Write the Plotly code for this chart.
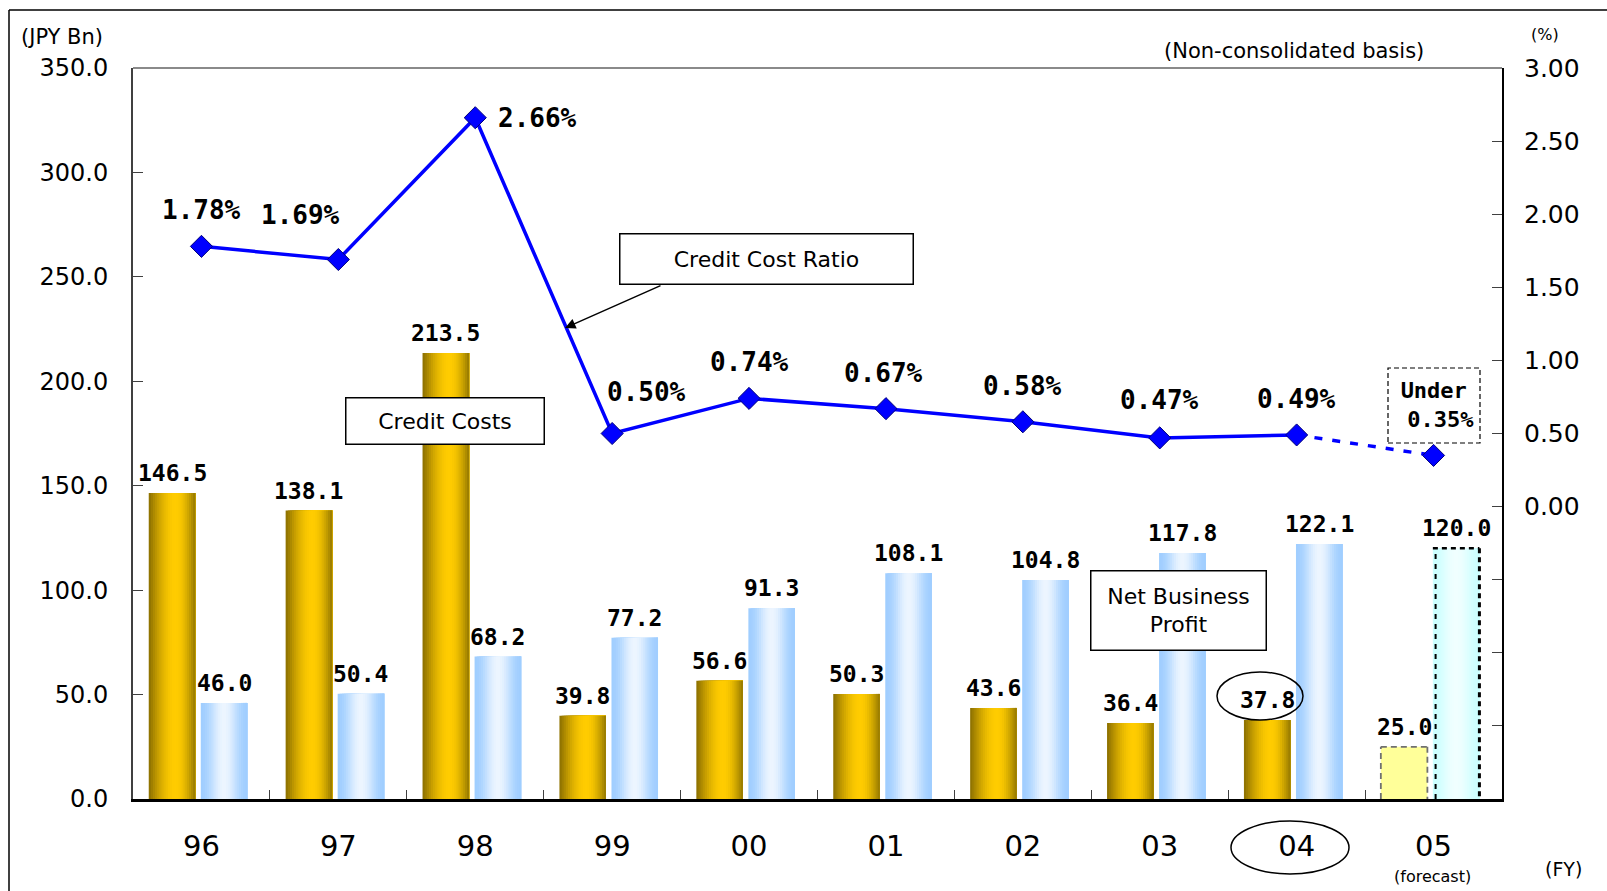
import math
import plotly.graph_objects as go

# ---- data -------------------------------------------------------------
years = ["96", "97", "98", "99", "00", "01", "02", "03", "04", "05"]
credit_costs = [146.5, 138.1, 213.5, 39.8, 56.6, 50.3, 43.6, 36.4, 37.8, 25.0]
net_business_profit = [46.0, 50.4, 68.2, 77.2, 91.3, 108.1, 104.8, 117.8, 122.1, 120.0]
credit_cost_ratio = [1.78, 1.69, 2.66, 0.50, 0.74, 0.67, 0.58, 0.47, 0.49, 0.35]
left_ticks = [0, 50, 100, 150, 200, 250, 300, 350]
right_ticks = [-2.0, -1.5, -1.0, -0.5, 0.0, 0.5, 1.0, 1.5, 2.0, 2.5, 3.0]

# ---- geometry helpers (figure pixels -> paper) ----------------------------
W, H = 1607, 891
ML, MR, MT, MB = 133, 105, 68, 92
PW, PH = W - ML - MR, H - MT - MB


def px(x):
    return (x - ML) / PW


def py(y):
    return (H - MB - y) / PH


# bar placement inside a category (category units)
GOLD_OFF, BLUE_OFF, BAR_W = -0.385, -0.005, 0.34
N_STRIPS = 22


def lerp(c1, c2, t):
    return tuple(round(a + (b - a) * t) for a, b in zip(c1, c2))


def shade(edge_l, peak, edge_r, t, peak_at, power):
    # dark/saturated edges, bright peak
    if t <= peak_at:
        s = t / peak_at
        return lerp(edge_l, peak, math.sin(s * math.pi / 2) ** power)
    s = (t - peak_at) / (1 - peak_at)
    return lerp(edge_r, peak, math.cos(s * math.pi / 2) ** power)


def rgb(c):
    return "rgb(%d,%d,%d)" % c


fig = go.Figure()

hist = len(years) - 1  # last year is a forecast


def add_strips(xs, ys, off, cols):
    # each strip runs to the right edge; later strips cover the rest,
    # so the visible bands join without seams
    for k in range(N_STRIPS):
        t = (k + 0.5) / N_STRIPS
        start = off + k * BAR_W / N_STRIPS
        fig.add_trace(go.Bar(
            x=xs, y=ys,
            offset=start, width=off + BAR_W - start,
            marker=dict(color=rgb(cols(t)), line=dict(width=0)),
            hoverinfo="skip", showlegend=False,
        ))


gold = lambda t: shade((0x8A, 0x6E, 0x00), (0xFF, 0xCC, 0x00), (0x94, 0x78, 0x00), t, 0.58, 1.0)
blue = lambda t: shade((0xA0, 0xCE, 0xFF), (0xEC, 0xF5, 0xFF), (0xA0, 0xCE, 0xFF), t, 0.5, 2.2)
cyan = lambda t: shade((0xCC, 0xFF, 0xFF), (0xF0, 0xFF, 0xFF), (0xCC, 0xFF, 0xFF), t, 0.5, 2.0)

add_strips(years[:hist], credit_costs[:hist], GOLD_OFF, gold)
add_strips(years[:hist], net_business_profit[:hist], BLUE_OFF, blue)

# forecast bars
fig.add_trace(go.Bar(
    x=years[hist:], y=credit_costs[hist:], offset=GOLD_OFF, width=BAR_W,
    marker=dict(color="#FFFF99", line=dict(width=0)),
    hoverinfo="skip", showlegend=False,
))
add_strips(years[hist:], net_business_profit[hist:], BLUE_OFF, cyan)

# credit cost ratio line (actuals solid, forecast dashed)
fig.add_trace(go.Scatter(
    x=years[:hist], y=credit_cost_ratio[:hist], yaxis="y2",
    mode="lines", line=dict(color="#0000FF", width=3.5),
    hoverinfo="skip", showlegend=False,
))
fig.add_trace(go.Scatter(
    x=years[hist - 1:], y=credit_cost_ratio[hist - 1:], yaxis="y2",
    mode="lines", line=dict(color="#0000FF", width=3.5, dash="8px,10px"),
    hoverinfo="skip", showlegend=False,
))
fig.add_trace(go.Scatter(
    x=years, y=credit_cost_ratio, yaxis="y2",
    mode="markers",
    marker=dict(symbol="diamond", size=17, color="#0000FF",
                line=dict(color="#00007A", width=1)),
    hoverinfo="skip", showlegend=False,
))

shapes = []
annotations = []

# dashed outlines of the forecast bars
fi = hist
gx0, gx1 = fi + GOLD_OFF, fi + GOLD_OFF + BAR_W
bx0, bx1 = fi + BLUE_OFF, fi + BLUE_OFF + BAR_W
gy, by = credit_costs[fi], net_business_profit[fi]
for (x0, y0, x1, y1) in [(gx0, 0, gx0, gy), (gx0, gy, gx1, gy), (gx1, gy, gx1, 0)]:
    shapes.append(dict(type="line", xref="x", yref="y", x0=x0, y0=y0, x1=x1, y1=y1,
                       line=dict(color="#707070", width=1.8, dash="6px,4px")))
shapes.append(dict(type="line", xref="x", yref="y", x0=bx0 + 0.02, y0=0, x1=bx0 + 0.02, y1=by,
                   line=dict(color="black", width=2, dash="5px,5px")))
shapes.append(dict(type="line", xref="x", yref="y", x0=bx0, y0=by, x1=bx1, y1=by,
                   line=dict(color="black", width=2.5, dash="5px,4px")))
shapes.append(dict(type="line", xref="x", yref="y", x0=bx1, y0=by, x1=bx1, y1=0,
                   line=dict(color="black", width=3, dash="5px,4px")))

# value labels above bars
mono = dict(family="DejaVu Sans Mono", size=23, color="black", weight="bold")
for i in range(len(years)):
    annotations.append(dict(x=i + GOLD_OFF + BAR_W / 2, y=credit_costs[i], xref="x", yref="y",
                            text="%.1f" % credit_costs[i], showarrow=False, yshift=20,
                            xanchor="center", yanchor="middle", font=mono))
    annotations.append(dict(x=i + BLUE_OFF + BAR_W / 2, y=net_business_profit[i], xref="x", yref="y",
                            text="%.1f" % net_business_profit[i], showarrow=False, yshift=20,
                            xanchor="center", yanchor="middle", font=mono))

# ratio labels
ratio_shift = [(0, 36), (-38, 45), (62, 0), (34, 42), (0, 36), (-2, 36), (0, 36), (0, 38), (0, 36)]
pct = dict(family="DejaVu Sans Mono", size=26, color="black", weight="bold")
for i in range(hist):
    dx, dy = ratio_shift[i]
    annotations.append(dict(x=i, y=credit_cost_ratio[i], xref="x", yref="y2",
                            text="%.2f%%" % credit_cost_ratio[i], showarrow=False,
                            xanchor="center", yanchor="middle",
                            xshift=dx, yshift=dy, font=pct))


def note(x, y, text, font, **kw):
    d = dict(x=px(x), y=py(y), xref="paper", yref="paper", text=text, showarrow=False,
             xanchor="center", yanchor="middle", font=font)
    d.update(kw)
    annotations.append(d)


# forecast ratio note in a dashed box
shapes.append(dict(type="rect", xref="paper", yref="paper",
                   x0=px(1388), x1=px(1480), y0=py(443), y1=py(368),
                   line=dict(color="black", width=1.2, dash="5px,3px"), fillcolor="white"))
note(1434, 405, "Under<br> %.2f%%" % credit_cost_ratio[hist],
     dict(family="DejaVu Sans Mono", size=22, color="black", weight="bold"))

# callout boxes
box_font = dict(family="DejaVu Sans", size=22, color="black")
box = dict(bgcolor="white", bordercolor="black", borderwidth=1.5, borderpad=0)
note(766, 258.5, "Credit Cost Ratio", box_font, width=292, height=49, **box)
note(444.5, 421.5, "Credit Costs", box_font, width=197, height=45, **box)
note(1178.5, 610, "Net Business<br>Profit", box_font, width=174, height=78, **box)

# arrow from the ratio box to the line
annotations.append(dict(x=px(565), y=py(328), xref="paper", yref="paper", text="",
                        showarrow=True, ax=97, ay=-43, arrowhead=2, arrowsize=1.4,
                        arrowwidth=1.5, arrowcolor="black"))

# highlight ellipses for the latest year
shapes.append(dict(type="circle", xref="paper", yref="paper",
                   x0=px(1217), x1=px(1303), y0=py(720), y1=py(672),
                   line=dict(color="black", width=1.5)))
shapes.append(dict(type="circle", xref="paper", yref="paper",
                   x0=px(1231), x1=px(1349), y0=py(874), y1=py(821),
                   line=dict(color="black", width=1.5)))

# unit captions
cap = dict(family="DejaVu Sans", color="black")
note(62, 37, "(JPY Bn)", dict(cap, size=21))
note(1545, 35, "(%)", dict(cap, size=16))
note(1294, 51, "(Non-consolidated basis)", dict(cap, size=21))
note(1563, 869, "(FY)", dict(cap, size=19))
note(1432, 877, "(forecast)", dict(cap, size=16))

# plot frame top edge and outer border
shapes.append(dict(type="line", xref="paper", yref="paper", x0=0, x1=1, y0=1, y1=1,
                   line=dict(color="#8A8A8A", width=2)))
shapes.append(dict(type="line", xref="paper", yref="paper", x0=px(9), x1=px(9), y0=py(10), y1=py(900),
                   line=dict(color="black", width=1.5)))
shapes.append(dict(type="line", xref="paper", yref="paper", x0=px(9), x1=px(1620), y0=py(10), y1=py(10),
                   line=dict(color="black", width=1.5)))

fig.update_layout(
    width=W, height=H,
    margin=dict(l=ML, r=MR, t=MT, b=MB),
    plot_bgcolor="white", paper_bgcolor="white",
    barmode="overlay", showlegend=False,
    shapes=shapes, annotations=annotations,
    xaxis=dict(type="category", categoryorder="array", categoryarray=years,
               range=[-0.5, len(years) - 0.5], tickson="boundaries",
               ticks="inside", ticklen=9, tickwidth=1.2, tickcolor="#404040",
               showline=True, linecolor="black", linewidth=3,
               showgrid=False, zeroline=False,
               tickfont=dict(family="DejaVu Sans", size=29, color="black"),
               ticklabelstandoff=19),
    yaxis=dict(range=[0, 350], tickvals=left_ticks, tickformat=".1f",
               ticks="inside", ticklen=10, tickwidth=1.2, tickcolor="#404040",
               showline=True, linecolor="#404040", linewidth=2,
               showgrid=False, zeroline=False,
               tickfont=dict(family="DejaVu Sans", size=24, color="black"),
               ticklabelstandoff=18),
    yaxis2=dict(range=[-2, 3], overlaying="y", side="right",
                tickvals=right_ticks,
                ticktext=["%.2f" % v if v >= 0 else "" for v in right_ticks],
                ticks="inside", ticklen=10, tickwidth=1.2, tickcolor="#404040",
                showline=True, linecolor="black", linewidth=2,
                showgrid=False, zeroline=False,
                tickfont=dict(family="DejaVu Sans", size=25, color="black"),
                ticklabelstandoff=15),
)

fig.write_html("out.html")
